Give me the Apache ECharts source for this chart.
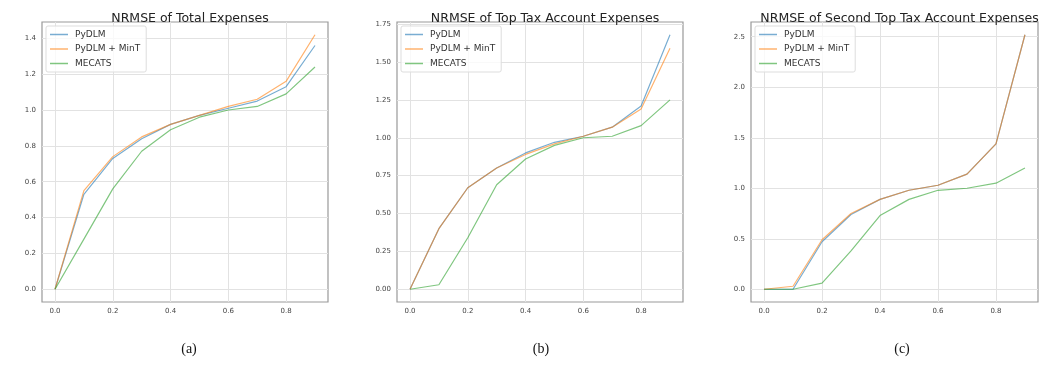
<!DOCTYPE html>
<html>
<head>
<meta charset="utf-8">
<script src="https://cdn.jsdelivr.net/npm/echarts@6/dist/echarts.min.js"></script>
<style>
  html, body { margin: 0; padding: 0; background: #fff; }
  #chart { width: 1039px; height: 383px; }
</style>
</head>
<body>
<div id="chart"></div>
<script>
// Shared x positions (fraction) for all three panels
const xValues = [0.0, 0.1, 0.2, 0.3, 0.4, 0.5, 0.6, 0.7, 0.8, 0.9];
const seriesNames = ['PyDLM', 'PyDLM + MinT', 'MECATS'];
const panelTitles = [
  'NRMSE of Total Expenses',
  'NRMSE of Top Tax Account Expenses',
  'NRMSE of Second Top Tax Account Expenses'
];
const captions = ['(a)', '(b)', '(c)'];

// (a) Total expenses
const totalPyDLM = [0.00, 0.53, 0.73, 0.84, 0.92, 0.97, 1.01, 1.05, 1.13, 1.36];
const totalMinT = [0.00, 0.55, 0.74, 0.85, 0.92, 0.97, 1.02, 1.06, 1.16, 1.42];
const totalMECATS = [0.00, 0.28, 0.56, 0.77, 0.89, 0.96, 1.00, 1.02, 1.09, 1.24];

// (b) Top tax account expenses
const topPyDLM = [0.00, 0.40, 0.67, 0.80, 0.90, 0.97, 1.01, 1.07, 1.21, 1.68];
const topMinT = [0.00, 0.40, 0.67, 0.80, 0.89, 0.96, 1.01, 1.07, 1.19, 1.59];
const topMECATS = [0.00, 0.03, 0.34, 0.69, 0.86, 0.95, 1.00, 1.01, 1.08, 1.25];

// (c) Second top tax account expenses
const secondPyDLM = [0.00, 0.00, 0.47, 0.74, 0.89, 0.98, 1.03, 1.14, 1.44, 2.52];
const secondMinT = [0.00, 0.03, 0.49, 0.75, 0.89, 0.98, 1.03, 1.14, 1.44, 2.52];
const secondMECATS = [0.00, 0.00, 0.06, 0.38, 0.73, 0.89, 0.98, 1.00, 1.05, 1.20];

// Tick values
const xTicks = [0.0, 0.2, 0.4, 0.6, 0.8];
const yTicksA = [0.0, 0.2, 0.4, 0.6, 0.8, 1.0, 1.2, 1.4];
const yTicksB = [0.00, 0.25, 0.50, 0.75, 1.00, 1.25, 1.50, 1.75];
const yTicksC = [0.0, 0.5, 1.0, 1.5, 2.0, 2.5];

const panelData = [
  [totalPyDLM, totalMinT, totalMECATS],
  [topPyDLM, topMinT, topMECATS],
  [secondPyDLM, secondMinT, secondMECATS]
];
const panelYTicks = [yTicksA, yTicksB, yTicksC];
const panelYDecimals = [1, 2, 1];

const colors = ['#1f77b4', '#ff7f0e', '#2ca02c'];

// Layout of the three plotting boxes
const boxes = [
  { left: 42, width: 286 },
  { left: 397, width: 286 },
  { left: 751, width: 287 }
];
const boxTop = 22, boxHeight = 280;
const captionCenters = [184, 536, 897];

// Axis limits padded by 5% of the data span on each side
function paddedRange(arrs) {
  const all = [].concat(...arrs);
  const lo = Math.min(...all), hi = Math.max(...all);
  const pad = (hi - lo) * 0.05;
  return [lo - pad, hi + pad];
}

const chart = echarts.init(document.getElementById('chart'), null, { renderer: 'canvas' });

const grid = [], xAxis = [], yAxis = [], series = [], title = [], legend = [];

const labelFont = { fontFamily: 'DejaVu Sans', fontSize: 7, color: '#444' };

boxes.forEach((b, i) => {
  grid.push({
    left: b.left, width: b.width, top: boxTop, height: boxHeight,
    show: true, borderColor: '#999', borderWidth: 1.2, backgroundColor: 'transparent'
  });

  const xr = paddedRange([xValues]);
  xAxis.push({
    type: 'value', gridIndex: i, min: xr[0], max: xr[1],
    axisLine: { show: false },
    axisTick: { show: false, customValues: xTicks },
    axisLabel: Object.assign({ margin: 6, customValues: xTicks, formatter: v => v.toFixed(1) }, labelFont),
    splitLine: { show: true, lineStyle: { color: '#e2e2e2', width: 1 } }
  });

  const yr = paddedRange(panelData[i]);
  const dec = panelYDecimals[i];
  yAxis.push({
    type: 'value', gridIndex: i, min: yr[0], max: yr[1],
    axisLine: { show: false },
    axisTick: { show: false, customValues: panelYTicks[i] },
    axisLabel: Object.assign({ margin: 6, customValues: panelYTicks[i], formatter: v => v.toFixed(dec) }, labelFont),
    splitLine: { show: true, lineStyle: { color: '#e2e2e2', width: 1 } }
  });

  panelData[i].forEach((vals, k) => {
    series.push({
      name: seriesNames[k], type: 'line', xAxisIndex: i, yAxisIndex: i,
      data: xValues.map((x, j) => [x, vals[j]]),
      symbol: 'none', smooth: false,
      color: colors[k],
      lineStyle: { width: 1.2, color: colors[k], opacity: 0.6 },
      z: 2 + k,
      silent: true, animation: false
    });
  });

  title.push({
    text: panelTitles[i],
    left: b.left + b.width / 2, top: 7, textAlign: 'center',
    textStyle: { fontFamily: 'DejaVu Sans', fontSize: 12.5, fontWeight: 'normal', color: '#222' }
  });
  title.push({
    text: captions[i],
    left: captionCenters[i], top: 337, textAlign: 'center',
    textStyle: { fontFamily: 'Liberation Serif', fontSize: 14, fontWeight: 'normal', color: '#111' }
  });

  legend.push({
    data: seriesNames, orient: 'vertical',
    left: b.left + 4, top: 26,
    icon: 'rect',
    itemWidth: 18, itemHeight: 1.5, itemGap: 5.5,
    itemStyle: { opacity: 0.6 },
    padding: [4, 6, 4, 4],
    borderColor: '#ddd', borderWidth: 1, borderRadius: 2, backgroundColor: 'rgba(255,255,255,0.8)',
    textStyle: { fontFamily: 'DejaVu Sans', fontSize: 9, color: '#333', padding: [0, 0, 0, 2] },
    selectedMode: false
  });
});

chart.setOption({
  animation: false,
  backgroundColor: '#fff',
  title, legend, grid, xAxis, yAxis, series
});
</script>
</body>
</html>
